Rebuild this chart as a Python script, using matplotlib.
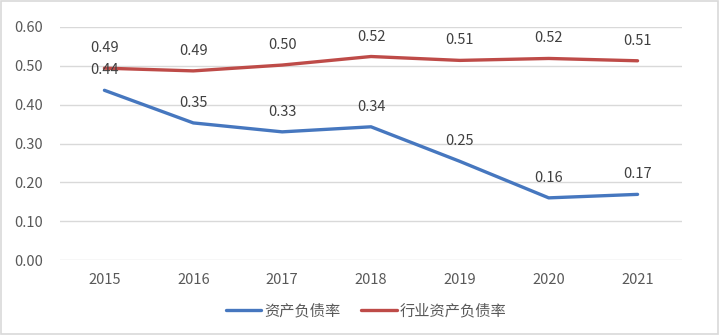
import matplotlib.pyplot as plt
from matplotlib.patches import Rectangle

plt.rcParams['font.family'] = ['Noto Sans CJK SC', 'DejaVu Sans']

years = ['2015', '2016', '2017', '2018', '2019', '2020', '2021']
company_ratio = [0.437, 0.353, 0.330, 0.343, 0.254, 0.160, 0.169]
industry_ratio = [0.494, 0.487, 0.502, 0.524, 0.514, 0.519, 0.513]
series_names = ['资产负债率', '行业资产负债率']
yticks = [0.0, 0.1, 0.2, 0.3, 0.4, 0.5, 0.6]

text_color = '#595959'
blue = '#4677BF'
red = '#BE4B48'

fig = plt.figure(figsize=(7.19, 3.35), dpi=100)
ax = fig.add_axes([60 / 719, 1 - 260 / 335, 622 / 719, 233 / 335])

x = list(range(len(years)))
ax.plot(x, company_ratio, color=blue, linewidth=2.4, label=series_names[0], solid_capstyle='round')
ax.plot(x, industry_ratio, color=red, linewidth=2.4, label=series_names[1], solid_capstyle='round')

# value labels above points
for xi, v in zip(x, company_ratio):
    ax.annotate(f'{v:.2f}', (xi, v), xytext=(0, 13), textcoords='offset pixels',
                ha='center', va='bottom', fontsize=10.5, color='#404040')
for xi, v in zip(x, industry_ratio):
    ax.annotate(f'{v:.2f}', (xi, v), xytext=(0, 13), textcoords='offset pixels',
                ha='center', va='bottom', fontsize=10.5, color='#404040')

ax.set_xlim(-0.5, len(years) - 0.5)
ax.set_ylim(0, 0.6)
ax.set_yticks(yticks)
ax.set_yticklabels([f'{t:.2f}' for t in yticks])
ax.set_xticks(x)
ax.set_xticklabels(years)
ax.tick_params(axis='both', length=0, labelsize=10.5, labelcolor=text_color)
ax.tick_params(axis='y', pad=12)
ax.tick_params(axis='x', pad=9)
ax.grid(axis='y', color='#D9D9D9', linewidth=1)
ax.set_axisbelow(True)
for s in ax.spines.values():
    s.set_visible(False)

fig.legend(loc='center', bbox_to_anchor=(366 / 719, 1 - 311 / 335), ncol=2, frameon=False,
           fontsize=11, labelcolor=text_color, handlelength=2.3, handletextpad=0.2,
           columnspacing=1.4)

# outer chart border
fig.patches.append(Rectangle((0.001, 0.002), 0.997, 0.995, transform=fig.transFigure,
                             fill=False, edgecolor='#D9D9D9', linewidth=1.2))

plt.savefig('out.png', dpi=100)
